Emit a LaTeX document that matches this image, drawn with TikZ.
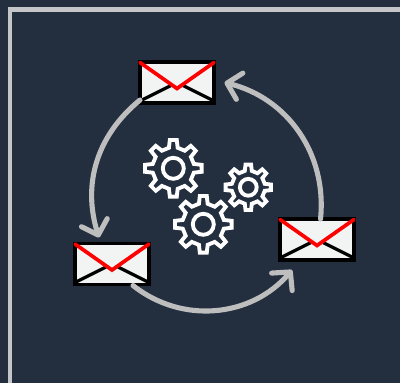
\documentclass[tikz,border=0pt]{standalone}
\usetikzlibrary{arrows.meta}
\definecolor{panelbg}{HTML}{232F3E}
\definecolor{framegray}{HTML}{C4C6C8}
\definecolor{flowgray}{HTML}{BEBEBE}
\definecolor{paper}{HTML}{F2F4F4}
\tikzset{
  mail/.style={draw=black, fill=paper, line width=2pt, minimum width=1.48cm, minimum height=0.82cm, inner sep=0pt, outer sep=0pt},
  backflap/.style={black, line width=1.8pt},
  frontflap/.style={red, line width=2.1pt, line cap=round, line join=miter},
  flow/.style={flowgray, line width=2.9pt, line cap=round, -{Straight Barb[length=2.6mm, width=5.4mm, round]}},
  gearline/.style={white, line width=2.2pt, line join=miter},
  pics/gear/.style={code={
    \draw[gearline] (-12:21) \foreach \a in {0,45,...,315} {
        -- ({\a-12}:21) -- ({\a-7}:28.5) -- ({\a+7}:28.5) -- ({\a+12}:21)
      } -- cycle;
    \draw[gearline] (0,0) circle (10.5);
  }}
}

\begin{document}
\begin{tikzpicture}[x=0.02cm, y=-0.02cm]

  % ====== background and frame ======
  \fill[panelbg] (0,0) rectangle (400,383);
  \useasboundingbox (0,0) rectangle (400,383);
  \draw[framegray, line width=2.3pt] (10,383) -- (10,9.5) -- (400,9.5);

  % ====== mails ======
  \node[mail] (mailtop) at (177,82.5) {};
  \node[mail] (mailleft) at (112,264) {};
  \node[mail] (mailright) at (317,239.5) {};
  \foreach \m in {mailtop,mailleft,mailright} {
    \draw[backflap] ([shift={(-36,18)}]\m.center) -- ([shift={(-6,3)}]\m.center);
    \draw[backflap] ([shift={(36,18)}]\m.center) -- ([shift={(6,3)}]\m.center);
    \draw[frontflap] ([shift={(-37,-20)}]\m.center) -- ([shift={(0,6)}]\m.center) -- ([shift={(37,-20)}]\m.center);
  }

  % ====== flows ======
  \draw[flow] ([xshift=2]mailright.north) to[bend right=41] ([xshift=6]mailtop.east);
  \draw[flow] ([shift={(-37,-3)}]mailtop.south) to[bend right=34] ([shift={(-13,-6)}]mailleft.north);
  \draw[flow] ([shift={(21,1)}]mailleft.south) to[bend right=44] ([shift={(-25,10)}]mailright.south);

  % ====== gears ======
  \pic (gearleft) at (173.3,168.3) {gear};
  \pic (gearlow) at (203.3,224.3) {gear};
  \pic[scale=0.8] (gearright) at (248.3,187.3) {gear};

\end{tikzpicture}
\end{document}
